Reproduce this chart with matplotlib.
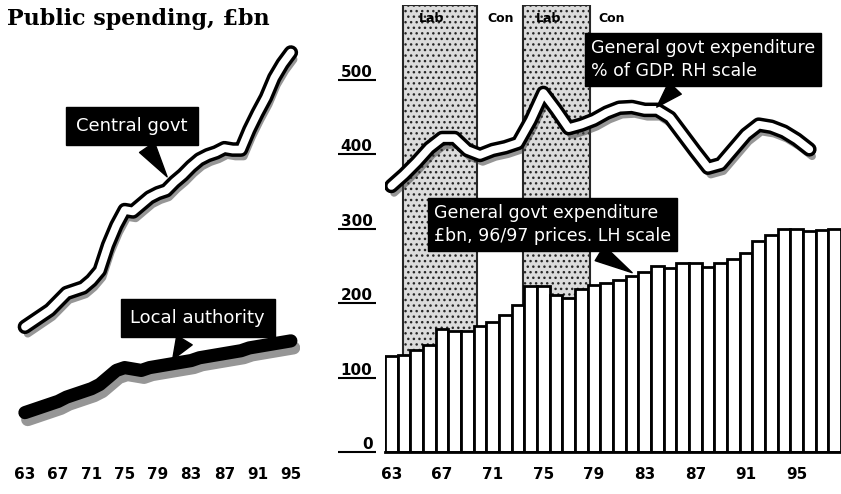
import matplotlib.pyplot as plt
import matplotlib.patheffects as pe
import matplotlib.transforms as mtransforms
import numpy as np

# left panel: central govt and local authority spending, 1963-1995
years_left = np.arange(1963, 1996)
central_govt = [89, 93, 97, 101, 107, 113, 115, 117, 122, 129, 147, 161, 172, 171, 176,
                181, 184, 186, 192, 197, 203, 208, 211, 213, 216, 215, 215, 229, 241, 252,
                266, 276, 284]
local_authority = [28, 30, 32, 34, 36, 39, 41, 43, 45, 48, 53, 58, 60, 59, 58, 60, 61, 62,
                   63, 64, 65, 67, 68, 69, 70, 71, 72, 74, 75, 76, 77, 78, 79]

# right panel: general govt expenditure, £bn 96/97 prices (bars) and % of GDP (line)
years_bar = np.arange(1963, 1999)
gge_bn = [129, 130, 137, 144, 165, 163, 163, 169, 175, 184, 198, 223, 223, 211, 207, 219,
          224, 227, 231, 237, 242, 250, 247, 254, 254, 249, 254, 259, 268, 284, 292, 300,
          300, 297, 298, 300]
years_pct = np.arange(1963, 1997)
gge_pct = [36.5, 38.1, 39.9, 41.9, 43.3, 43.3, 41.6, 40.9, 41.6, 42.0, 42.6, 45.8, 49.7,
           47.3, 44.7, 45.2, 45.9, 46.9, 47.6, 47.7, 47.3, 47.3, 46.2, 43.8, 41.4, 39.1,
           39.6, 41.7, 43.8, 45.2, 44.9, 44.2, 43.1, 41.7]

labour_periods = [(1963.9, 1969.8), (1973.4, 1978.7)]
party_labels = ["Lab", "Con", "Lab", "Con"]
party_x = [1966.2, 1971.6, 1975.4, 1980.4]

xticks = [1963, 1967, 1971, 1975, 1979, 1983, 1987, 1991, 1995]
xtick_labels = [str(y)[2:] for y in xticks]
yticks = [0, 100, 200, 300, 400, 500]

fig = plt.figure(figsize=(8.41, 4.94), dpi=100)
axl = fig.add_axes([0, 42 / 494, 300 / 841, 422 / 494])
axr = fig.add_axes([385 / 841, 42 / 494, 456 / 841, 446.5 / 494])
ax2 = axr.twinx()

shadow = pe.SimpleLineShadow(offset=(2, -5), shadow_color="0.25", alpha=0.55)
white_line = [shadow, pe.Stroke(linewidth=10.5, foreground="black"), pe.Normal()]

# ---- left panel
axl.plot(years_left, central_govt, color="white", lw=5.5, solid_capstyle="round",
         path_effects=white_line, zorder=3)
axl.plot(years_left, local_authority, color="black", lw=9.5, solid_capstyle="round",
         path_effects=[shadow, pe.Normal()], zorder=3)
axl.set_xlim(1960, 1996.1)
axl.set_ylim(0, 300)
axl.set_xticks(xticks)
axl.set_xticklabels(xtick_labels, fontsize=11, fontweight="bold")
axl.set_yticks([])
axl.tick_params(axis="x", length=0, pad=11)
for s in axl.spines.values():
    s.set_visible(False)

box = dict(boxstyle="square,pad=0.55", fc="black", ec="black")
wedge = dict(arrowstyle="wedge,tail_width=1.0,shrink_factor=0.5", fc="black", ec="black")
axl.annotate("Central govt", xy=(1980.3, 194), xytext=(1975.9, 232), ha="center",
             va="center", color="white", fontsize=13, bbox=box, arrowprops=wedge, zorder=5)
axl.annotate("Local authority", xy=(1980.6, 64), xytext=(1983.8, 95), ha="center",
             va="center", color="white", fontsize=13, bbox=box, arrowprops=wedge, zorder=5)

fig.text(0.008, 1 - 19 / 494, "Public spending, £bn", fontsize=16, fontweight="heavy",
         family="DejaVu Serif", va="center", ha="left")

# ---- right panel
for x0, x1 in labour_periods:
    axr.axvspan(x0, x1, facecolor="0.86", edgecolor="0.15", hatch="...", lw=1.5, zorder=0)
for lab, x in zip(party_labels, party_x):
    axr.text(x, 0.985, lab, transform=axr.get_xaxis_transform(), ha="center", va="top",
             fontsize=9, fontweight="bold")

axr.bar(years_bar, gge_bn, width=1.0, color="white", edgecolor="black", lw=2, zorder=2)
axr.set_xlim(1962.5, 1998.5)
axr.set_ylim(0, 600)
axr.set_xticks(xticks)
axr.set_xticklabels(xtick_labels, fontsize=11, fontweight="bold")
axr.set_yticks(yticks)
axr.set_yticklabels([str(v) for v in yticks], fontsize=11, fontweight="bold")
for lab in axr.get_yticklabels():
    lab.set_verticalalignment("bottom")
axr.tick_params(axis="x", length=0, pad=11)
axr.tick_params(axis="y", length=0, pad=9)
for side in ["top", "right", "left"]:
    axr.spines[side].set_visible(False)
axr.spines["bottom"].set_linewidth(2)
trans = mtransforms.blended_transform_factory(axr.transAxes, axr.transData)
axr.hlines(yticks, -0.103, -0.02, transform=trans, color="black", lw=1.5, clip_on=False)

ax2.plot(years_pct, gge_pct, color="white", lw=5.5, solid_capstyle="round",
         path_effects=white_line, zorder=3)
ax2.set_ylim(-1.23, 62.1)
ax2.set_yticks([])
for s in ax2.spines.values():
    s.set_visible(False)

box2 = dict(boxstyle="square,pad=0.35", fc="black", ec="black")
ax2.annotate("General govt expenditure\n% of GDP. RH scale", xy=(1983.8, 47.4),
             xytext=(1987.6, 54.5), ha="center", va="center", multialignment="left",
             color="white", fontsize=12.5, linespacing=1.35, bbox=box2, arrowprops=wedge,
             zorder=5)
ax2.annotate("General govt expenditure\n£bn, 96/97 prices. LH scale", xy=(1982.2, 24.0),
             xytext=(1975.7, 31.0), ha="center", va="center", multialignment="left",
             color="white", fontsize=12.5, linespacing=1.35, bbox=box2, arrowprops=wedge,
             zorder=5)

fig.savefig("out.png", dpi=100)
